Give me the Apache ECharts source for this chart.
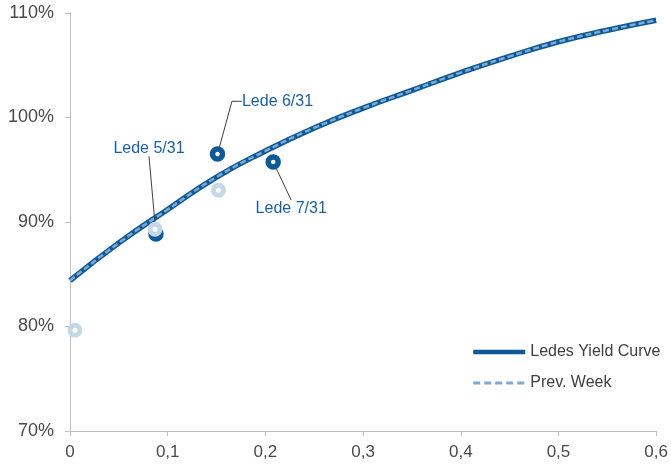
<!DOCTYPE html>
<html>
<head>
<meta charset="utf-8">
<script src="https://cdn.jsdelivr.net/npm/echarts@6/dist/echarts.min.js"></script>
<style>
html, body { margin: 0; padding: 0; background: #fff; }
#chart { width: 671px; height: 466px; }
</style>
</head>
<body>
<div id="chart"></div>
<script>
// Curve sample points (term on x, yield in % on y)
const maturities = [0, 0.05, 0.1, 0.15, 0.2, 0.25, 0.3, 0.35, 0.4, 0.45, 0.5, 0.55, 0.6];
const curveNow  = [84.4, 88.0, 91.2, 94.3, 96.8, 99.0, 100.9, 102.6, 104.3, 105.85, 107.25, 108.35, 109.3];
const curvePrev = [84.4, 88.0, 91.2, 94.3, 96.8, 99.0, 100.9, 102.6, 104.3, 105.85, 107.25, 108.35, 109.3];

// Individual Lede issues, current and previous week
const ledeNames = ['Lede 5/31', 'Lede 6/31', 'Lede 7/31'];
const ledeX     = [0.088, 0.151, 0.208];
const ledeY     = [88.85, 96.5, 95.75];
const prevX     = [0.005, 0.087, 0.152];
const prevY     = [79.65, 89.3, 93.05];

// Label offsets and leader elbow lengths for the annotated issues
const labelShift = [[-7, -65], [60, -32], [18, 67]];
const leaderElbow = [0.01, 10, 0.01];

const yMin = 70, yMax = 110, yStep = 10;
const xMin = 0, xMax = 0.6, xStep = 0.1;

const DARK = '#0e5a98';
const LIGHT = '#7fa9d0';
const PALE = '#c6d8e8';
const FONT = 'Liberation Sans, Arial, sans-serif';

const chart = echarts.init(document.getElementById('chart'), null, { renderer: 'canvas' });

chart.setOption({
  animation: false,
  backgroundColor: '#fff',
  grid: { left: 70, right: 13, top: 13, bottom: 35, containLabel: false },
  xAxis: {
    type: 'value', min: xMin, max: xMax, interval: xStep,
    axisLine: { lineStyle: { color: '#bfbfbf', width: 1 } },
    axisTick: { show: true, length: 5, lineStyle: { color: '#bfbfbf' } },
    splitLine: { show: false },
    axisLabel: {
      color: '#4a4a4a', fontSize: 17, fontFamily: FONT, margin: 13,
      formatter: v => String(+v.toFixed(1)).replace('.', ',')
    }
  },
  yAxis: {
    type: 'value', min: yMin, max: yMax, interval: yStep,
    axisLine: { show: true, lineStyle: { color: '#bfbfbf', width: 1 } },
    axisTick: { show: true, length: 5, lineStyle: { color: '#bfbfbf' } },
    splitLine: { show: false },
    axisLabel: {
      color: '#4a4a4a', fontSize: 18, fontFamily: FONT, margin: 16,
      formatter: v => v + '%'
    }
  },
  legend: {
    data: [
      { name: 'Ledes Yield Curve', lineStyle: { width: 4.5 } },
      { name: 'Prev. Week', lineStyle: { width: 3, type: [7, 4] } }
    ],
    orient: 'vertical',
    left: 471, top: 344,
    itemWidth: 52, itemHeight: 14, itemGap: 15,
    padding: 0,
    itemStyle: { opacity: 0 },
    textStyle: { color: '#404040', fontSize: 16, fontFamily: FONT }
  },
  series: [
    {
      name: 'Ledes Yield Curve', type: 'line', smooth: true, symbol: 'none', z: 2,
      data: maturities.map((m, i) => [m, curveNow[i]]),
      lineStyle: { color: DARK, width: 5.5 },
      itemStyle: { color: DARK }
    },
    {
      name: 'Prev. Week', type: 'line', smooth: true, symbol: 'none', z: 3,
      data: maturities.map((m, i) => [m, curvePrev[i]]),
      lineStyle: { color: LIGHT, width: 2.5, type: [6, 3] },
      itemStyle: { color: LIGHT }
    },
    {
      name: 'Lede', type: 'scatter', z: 4,
      symbol: 'circle', symbolSize: 10,
      data: ledeX.map((x, i) => ({
        value: [x, ledeY[i]],
        name: ledeNames[i],
        labelLine: { length2: leaderElbow[i] }
      })),
      itemStyle: { color: '#ffffff', borderColor: DARK, borderWidth: 5.5, opacity: 1 },
      label: {
        show: true, position: 'top', distance: 5,
        formatter: p => p.name,
        color: '#1c5f9f', fontSize: 16, fontFamily: FONT
      },
      labelLine: {
        show: true, length: 0, length2: 0.01, minTurnAngle: 0, smooth: false,
        lineStyle: { color: '#404040', width: 1 }
      },
      labelLayout: p => ({ dx: labelShift[p.dataIndex][0], dy: labelShift[p.dataIndex][1] }),
      emphasis: { disabled: true }
    },
    {
      name: 'Lede prev', type: 'scatter', z: 5,
      symbol: 'circle', symbolSize: 10,
      data: prevX.map((x, i) => [x, prevY[i]]),
      itemStyle: { color: '#ffffff', borderColor: PALE, borderWidth: 5, opacity: 1 },
      emphasis: { disabled: true }
    }
  ]
});
</script>
</body>
</html>
